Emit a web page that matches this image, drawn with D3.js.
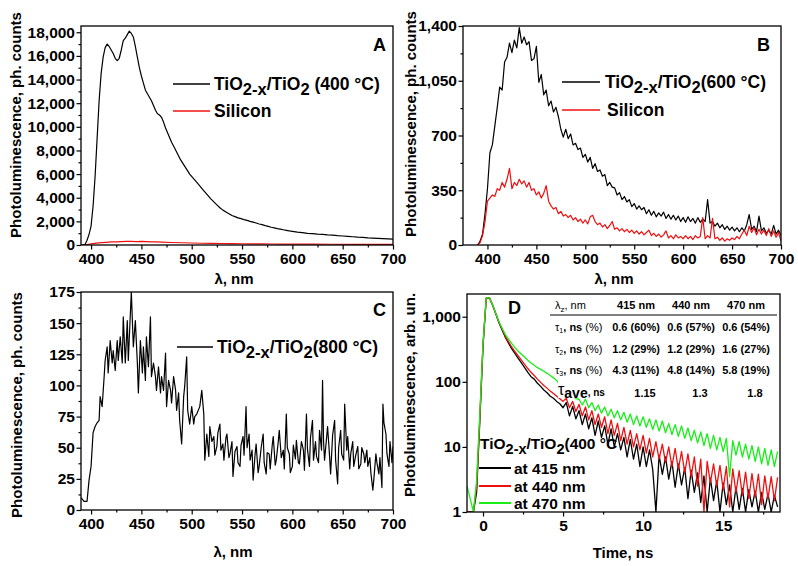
<!DOCTYPE html>
<html>
<head>
<meta charset="utf-8">
<script src="https://cdnjs.cloudflare.com/ajax/libs/d3/7.8.5/d3.min.js"></script>
<style>
  body { margin: 0; background: #fff; }
  svg { font-family: "Liberation Sans", Arial, sans-serif; font-weight: bold; }
</style>
</head>
<body>
<svg id="chart" width="798" height="566"></svg>
<script>
"use strict";

// ----------------------------------------
//  Data
// ----------------------------------------

// Panel A : TiO2-x/TiO2 (400 C) and silicon, [nm, counts]
let specA400 = [[390,0],[392,0],[394,50],[396,400],[398,900],[400,1600],[402,3300],[404,5800],[406,9000],[408,12200],
  [410,14500],[412,15900],[414,16700],[416,17000],[418,16800],[420,16500],[422,16200],[424,15800],[426,15600],[428,15800],
  [430,16500],[432,17300],[434,17500],[436,17800],[438,18100],[440,17900],[442,17600],[444,16800],[446,15900],[448,15000],
  [450,14300],[452,13700],[454,13100],[456,12800],[458,12500],[460,12200],[462,11800],[464,11400],[466,11100],[468,11000],
  [470,10800],[472,10400],[474,9900],[476,9500],[478,9100],[480,8700],[483,8200],[486,7700],[489,7200],[492,6800],
  [495,6400],[498,6000],[501,5700],[504,5400],[507,5100],[510,4800],[513,4500],[516,4200],[519,3900],[522,3650],
  [525,3400],[528,3150],[531,2950],[534,2800],[537,2650],[540,2500],[543,2400],[546,2300],[549,2230],[552,2150],
  [555,2080],[558,2000],[561,1930],[564,1860],[567,1780],[570,1720],[573,1640],[576,1580],[579,1500],[582,1450],
  [585,1390],[588,1340],[591,1290],[594,1240],[597,1190],[600,1150],[605,1090],[610,1040],[615,990],[620,960],
  [625,920],[630,900],[635,850],[640,830],[645,790],[650,760],[655,730],[660,700],[665,660],[670,640],
  [675,600],[680,580],[685,560],[690,540],[695,520],[700,500]];
let siliconA = [[390,0],[395,20],[400,90],[405,160],[410,200],[415,230],[420,260],[425,270],[430,290],[435,310],
  [440,300],[445,290],[450,310],[455,290],[460,270],[465,260],[470,240],[480,210],[490,190],[500,170],
  [510,150],[520,140],[530,125],[540,115],[550,105],[560,95],[570,90],[580,85],[590,80],[600,75],
  [620,70],[640,65],[660,60],[680,55],[700,50]];

// Panel B : sampled every 2.5 nm from 390 nm
let nmB = d3.range(125).map(i => 390 + 2.5 * i);
let specB600 = [0,25,70,200,360,590,640,760,880,1010,990,1170,1200,1290,1230,1310,1260,1390,1290,1330,
  1280,1300,1180,1190,1270,1040,1090,960,990,890,920,850,880,820,740,690,740,680,710,640,
  650,610,620,560,580,530,560,490,520,470,480,440,450,380,400,370,365,320,335,290,
  310,275,290,245,265,230,250,225,240,200,225,190,215,180,205,185,210,170,195,165,
  190,160,185,150,175,145,180,150,170,140,175,145,165,150,290,140,150,120,140,110,
  130,100,120,95,115,90,110,85,110,90,130,195,100,120,85,185,90,110,75,95,
  70,125,70,95,60];
let siliconB = [0,15,60,150,280,300,320,310,360,350,400,370,420,490,360,400,380,420,390,410,
  370,400,350,360,320,340,300,330,380,280,250,230,240,200,215,185,195,175,190,160,
  175,150,165,140,160,135,180,190,150,130,140,115,130,105,125,150,100,110,90,105,
  85,100,80,95,75,90,70,85,65,80,95,60,75,55,70,50,65,90,45,60,
  40,65,45,55,40,60,40,55,35,60,45,55,175,40,60,45,170,40,50,30,
  45,25,40,30,45,35,55,40,70,95,60,120,80,110,65,100,70,95,60,105,
  55,90,50,80,25];

// Panel C : TiO2-x/TiO2 (800 C), [nm, counts]
let specC800 = [[390,10],[393,7],[396,7],[398,24],[400,35],[402,62],[404,67],[406,70],[408,72],[409,91],
  [411,83],[413,107],[414,120],[416,131],[417,110],[419,136],[421,118],[422,128],[424,112],[426,136],
  [427,120],[429,139],[431,118],[432,155],[434,118],[436,152],[437,120],[440,175],[442,131],[444,152],
  [446,118],[447,94],[449,136],[451,110],[452,131],[454,104],[455,139],[457,115],[459,155],[460,107],
  [462,118],[464,107],[465,96],[467,115],[469,94],[470,107],[472,96],[474,126],[475,83],[477,104],
  [479,96],[480,86],[482,107],[484,96],[485,80],[487,94],[488,72],[490,53],[492,91],[493,99],
  [495,123],[496,80],[498,69],[500,83],[502,69],[503,75],[505,77],[508,83],[510,96],[512,77],
  [513,40],[515,61],[517,43],[518,67],[520,55],[522,59],[523,44],[525,51],[526,62],[528,69],
  [529,48],[531,53],[532,40],[534,58],[535,61],[537,42],[538,45],[540,55],[541,27],[543,47],
  [545,51],[546,38],[548,35],[549,52],[551,59],[552,44],[554,83],[555,50],[557,61],[558,40],
  [560,48],[561,24],[563,45],[564,53],[566,30],[567,35],[569,50],[571,61],[572,38],[574,29],
  [575,46],[577,45],[578,33],[580,52],[581,59],[583,36],[584,40],[586,55],[587,64],[589,42],
  [591,48],[592,33],[594,77],[595,50],[597,45],[598,30],[600,35],[601,52],[603,41],[604,56],
  [606,38],[607,37],[609,55],[611,48],[612,32],[614,77],[615,49],[617,35],[618,58],[620,72],
  [621,40],[623,55],[624,43],[626,38],[627,64],[629,48],[630,104],[631,55],[632,40],[634,58],
  [635,67],[637,43],[638,29],[640,60],[642,72],[643,40],[645,21],[646,50],[648,64],[649,45],
  [651,40],[652,85],[654,48],[655,59],[657,33],[658,45],[660,55],[661,35],[663,44],[665,51],
  [666,33],[668,37],[669,50],[671,45],[672,38],[674,48],[675,35],[677,42],[678,30],[680,16],
  [681,25],[683,45],[684,38],[686,29],[687,42],[689,18],[690,85],[691,70],[693,61],[694,45],
  [696,35],[697,55],[699,38],[700,51]];

// Panel D : decays, sampled every 0.2 ns from -1 ns
let timeD = d3.range(98).map(i => -1 + 0.2 * i);
let decay415 = [1,1,1,2,25,350,1900,1950,1500,1100,800,620,480,390,320,270,230,195,165,140,
  120,110,95,85,75,68,60,56,50,46,40,48,30,42,27,36,22,32,19,28,
  15,25,14,21,11,19,10,16,9,14,7,13,6.5,11,5,10,5,9,4.5,1,
  7.5,3.8,7,3.2,6,2.4,5.5,2.6,4.8,1.6,4.4,2,4,1.4,3.6,1,3.3,1.5,3,1,
  2.8,1.3,2.6,1,2.4,1.1,2.3,1,2.2,1.2,2.1,1,2,1.1,1.9,1,1.8,1.2];
let decay440 = [1,1,1,2.5,28,380,1950,1950,1520,1120,820,640,500,410,340,290,250,215,185,160,
  140,125,110,98,88,80,72,66,60,55,50,56,40,50,35,45,30,41,26,36,
  22,32,20,29,16,26,15,23,12.5,20,11,18,10,16,9,15,8,13.5,7,12,
  6.5,11,5.8,10,5,9.5,4.5,8.5,4,7.8,3.5,7,2.5,6.5,1,6,2.8,5.5,2.5,5.2,
  2.2,5,1.2,4.6,2,4.3,1.8,4.1,1.6,3.9,1.7,3.8,1.3,3.6,1.6,3.5,1.5,3.4];
let decay470 = [2.5,1.6,1,3,32,380,1950,1950,1520,1120,830,660,530,450,385,335,295,265,240,215,
  195,180,165,155,145,135,125,115,105,90,82,78,66,64,55,54,44,54,40,48,
  36,44,33,41,30,38,28,36,26,34,24,32,22,30,21,29,20,27,18.5,26,
  17.5,25,16.5,23,15.5,22,14.5,21,13.5,19.5,12.5,18,11.5,17,10.5,16,9.5,15,9,14,
  8.5,13.5,3.5,12.5,7.5,12,7,11,6.5,10.5,6,10,5.5,9.5,5.2,9,5,8.5];

// Lifetime table in panel D
let tableCols = ["415 nm", "440 nm", "470 nm"];
let tau1 = ["0.6 (60%)", "0.6 (57%)", "0.6 (54%)"];
let tau2 = ["1.2 (29%)", "1.2 (29%)", "1.6 (27%)"];
let tau3 = ["4.3 (11%)", "4.8 (14%)", "5.8 (19%)"];
let tauAve = ["1.15", "1.3", "1.8"];

const RED = "#ee1010";
const GREEN = "#18ee18";

let svg = d3.select("#chart");

// ----------------------------------------
//  One framed panel with its axes
// ----------------------------------------
function panel(p) {
  let x = d3.scaleLinear().domain(p.xDomain).range([p.left, p.right]);
  let y = (p.log ? d3.scaleLog() : d3.scaleLinear()).domain(p.yDomain).range([p.bottom, p.top]);
  let g = svg.append("g");

  g.append("clipPath").attr("id", "clip" + p.name)
    .append("rect")
    .attr("x", p.left).attr("y", p.top)
    .attr("width", p.right - p.left).attr("height", p.bottom - p.top);

  function style(a) {
    a.attr("font-family", null).attr("font-size", 15.5);
    a.select(".domain").remove();
    a.selectAll(".tick line").attr("stroke-width", 1.2);
  }

  // x axis, minor then major
  g.append("g").attr("transform", "translate(0," + p.bottom + ")")
    .call(d3.axisBottom(x).tickValues(p.xMinor).tickSize(2.5).tickFormat(""))
    .call(style);
  g.append("g").attr("transform", "translate(0," + p.bottom + ")")
    .call(d3.axisBottom(x).tickValues(p.xTicks).tickSize(4.5).tickPadding(3).tickFormat(d3.format("d")))
    .call(style);

  // y axis
  if (p.yMinor) {
    g.append("g").attr("transform", "translate(" + p.left + ",0)")
      .call(d3.axisLeft(y).tickValues(p.yMinor).tickSize(2.5).tickFormat(""))
      .call(style);
  }
  g.append("g").attr("transform", "translate(" + p.left + ",0)")
    .call(d3.axisLeft(y).tickValues(p.yTicks).tickSize(4.5).tickPadding(1.5).tickFormat(d3.format(",")))
    .call(style);

  // curves
  let line = d3.line()
    .x(d => x(d[0]))
    .y(d => y(Math.max(d[1], p.yDomain[0])));
  p.series.forEach(s => {
    g.append("path").datum(s.data)
      .attr("clip-path", "url(#clip" + p.name + ")")
      .attr("fill", "none")
      .attr("stroke", s.color)
      .attr("stroke-width", p.lineWidth || 1.2)
      .attr("stroke-linejoin", "round")
      .attr("d", line);
  });

  // frame
  g.append("rect")
    .attr("x", p.left).attr("y", p.top)
    .attr("width", p.right - p.left).attr("height", p.bottom - p.top)
    .attr("fill", "none").attr("stroke", "#000").attr("stroke-width", 1.3);

  // panel letter
  g.append("text").attr("x", p.letterX).attr("y", p.letterY)
    .attr("font-size", 18).text(p.name);

  // axis titles
  g.append("text").attr("x", p.xTitleX).attr("y", p.xTitleY)
    .attr("text-anchor", "middle").attr("font-size", 15).text(p.xTitle);
  g.append("text")
    .attr("transform", "translate(" + p.yTitleX + "," + p.yTitleY + ") rotate(-90)")
    .attr("text-anchor", "middle").attr("font-size", 15).text(p.yTitle);

  return g;
}

// legend entry with "TiO2-x/TiO2 ..." style subscripts
function formula(g, x, y, size, tail) {
  let t = g.append("text").attr("x", x).attr("y", y).attr("font-size", size);
  t.append("tspan").text("TiO");
  t.append("tspan").attr("dy", 5).attr("font-size", size - 1).text("2-x");
  t.append("tspan").attr("dy", -5).text("/TiO");
  t.append("tspan").attr("dy", 5).attr("font-size", size - 1).text("2");
  t.append("tspan").attr("dy", -5).text(tail);
}

function legendLine(g, x1, x2, y, color, w) {
  g.append("line").attr("x1", x1).attr("x2", x2).attr("y1", y).attr("y2", y)
    .attr("stroke", color).attr("stroke-width", w || 1.6);
}

let nmTicks = [400, 450, 500, 550, 600, 650, 700];
let nmMinor = [425, 475, 525, 575, 625, 675];

// ----------------------------------------
//  Panel A
// ----------------------------------------
let gA = panel({
  name: "A", left: 81, right: 393, top: 26, bottom: 245,
  xDomain: [390, 700], yDomain: [0, 18530],
  xTicks: nmTicks, xMinor: nmMinor,
  yTicks: d3.range(0, 18001, 2000), yMinor: d3.range(1000, 18000, 2000),
  series: [{data: siliconA, color: RED}, {data: specA400, color: "#000"}],
  letterX: 373, letterY: 51,
  xTitle: "λ, nm", xTitleX: 234, xTitleY: 284,
  yTitle: "Photoluminescence, ph. counts", yTitleX: 21, yTitleY: 125
});
legendLine(gA, 173, 210, 84, "#000");
formula(gA, 214, 90, 17.5, " (400 °C)");
legendLine(gA, 173, 210, 111, RED);
gA.append("text").attr("x", 214).attr("y", 117).attr("font-size", 17.5).text("Silicon");

// ----------------------------------------
//  Panel B
// ----------------------------------------
let gB = panel({
  name: "B", left: 463, right: 781, top: 26, bottom: 245,
  xDomain: [375, 700], yDomain: [0, 1400],
  xTicks: nmTicks, xMinor: nmMinor,
  yTicks: [0, 350, 700, 1050, 1400], yMinor: [175, 525, 875, 1225],
  series: [{data: nmB.map((d, i) => [d, specB600[i]]), color: "#000"},
           {data: nmB.map((d, i) => [d, siliconB[i]]), color: RED}],
  letterX: 757, letterY: 51,
  xTitle: "λ, nm", xTitleX: 614, xTitleY: 284,
  yTitle: "Photoluminescence, ph. counts", yTitleX: 416, yTitleY: 124
});
legendLine(gB, 562, 600, 82, "#000");
formula(gB, 605, 88, 17.5, "(600 °C)");
legendLine(gB, 562, 600, 110, RED);
gB.append("text").attr("x", 607).attr("y", 116).attr("font-size", 17.5).text("Silicon");

// ----------------------------------------
//  Panel C
// ----------------------------------------
let gC = panel({
  name: "C", left: 81, right: 393, top: 292, bottom: 510,
  xDomain: [390, 700], yDomain: [0, 175],
  xTicks: nmTicks, xMinor: nmMinor,
  yTicks: d3.range(0, 176, 25), yMinor: d3.range(12.5, 175, 25),
  series: [{data: specC800, color: "#000"}],
  letterX: 373, letterY: 316,
  xTitle: "λ, nm", xTitleX: 233, xTitleY: 557,
  yTitle: "Photoluminescence, ph. counts", yTitleX: 22, yTitleY: 405
});
legendLine(gC, 177, 213, 347, "#000");
formula(gC, 217, 353, 17.5, "(800 °C)");

// ----------------------------------------
//  Panel D
// ----------------------------------------
let gD = panel({
  name: "D", left: 467, right: 780, top: 294, bottom: 512, log: true, lineWidth: 1.3,
  xDomain: [-1, 18.55], yDomain: [1, 2234],
  xTicks: [0, 5, 10, 15], xMinor: [2.5, 7.5, 12.5, 17.5],
  yTicks: [1, 10, 100, 1000], yMinor: null,
  series: [{data: timeD.map((t, i) => [t, decay415[i]]), color: "#000"},
           {data: timeD.map((t, i) => [t, decay440[i]]), color: RED},
           {data: timeD.map((t, i) => [t, decay470[i]]), color: GREEN}],
  letterX: 508, letterY: 314,
  xTitle: "Time, ns", xTitleX: 623, xTitleY: 558,
  yTitle: "Photoluminescence, arb. un.", yTitleX: 415, yTitleY: 395
});

// table with white background
gD.append("rect").attr("x", 558).attr("y", 295).attr("width", 221).attr("height", 103).attr("fill", "#fff");
gD.append("line").attr("x1", 550).attr("x2", 777).attr("y1", 315).attr("y2", 315)
  .attr("stroke", "#000").attr("stroke-width", 1);

let colX = [636, 691, 746];
let hdr = gD.append("text").attr("x", 555).attr("y", 309).attr("font-size", 11).attr("font-weight", "normal");
hdr.append("tspan").text("λ");
hdr.append("tspan").attr("dy", 3).attr("font-size", 8).text("z");
hdr.append("tspan").attr("dy", -3).text(", nm");
gD.selectAll(".colhead").data(tableCols).enter().append("text")
  .attr("x", (d, i) => colX[i]).attr("y", 309).attr("text-anchor", "middle")
  .attr("font-size", 11).text(d => d);

let rows = [tau1, tau2, tau3];
let rowY = [331, 353, 374];
rows.forEach((r, k) => {
  let lab = gD.append("text").attr("x", 555).attr("y", rowY[k]).attr("font-size", 11);
  lab.append("tspan").attr("font-weight", "normal").text("τ");
  lab.append("tspan").attr("dy", 2).attr("font-size", 7).attr("font-weight", "normal").text(String(k + 1));
  lab.append("tspan").attr("dy", -2).text(", ns ");
  lab.append("tspan").attr("font-weight", "normal").text("(%)");
  gD.selectAll(".row" + k).data(r).enter().append("text")
    .attr("x", (d, i) => colX[i]).attr("y", rowY[k]).attr("text-anchor", "middle")
    .attr("font-size", 11).text(d => d);
});

let ave = gD.append("text").attr("x", 558).attr("y", 395).attr("font-size", 16).attr("font-weight", "normal");
ave.append("tspan").text("τ");
ave.append("tspan").attr("dy", 3).attr("font-size", 14).attr("font-weight", "bold").text("ave");
ave.append("tspan").attr("dy", -2).attr("font-size", 10).attr("font-weight", "bold").text(", ns");
gD.selectAll(".ave").data(tauAve).enter().append("text")
  .attr("x", (d, i) => colX[i] + 9).attr("y", 397).attr("text-anchor", "middle")
  .attr("font-size", 11).text(d => d);

// decay legend
formula(gD, 480, 449, 15.5, "(400 °C");
legendLine(gD, 479, 511, 468, "#000", 2);
legendLine(gD, 479, 511, 486, RED, 2);
legendLine(gD, 479, 511, 503, GREEN, 2);
["at 415 nm", "at 440 nm", "at 470 nm"].forEach((s, i) => {
  gD.append("text").attr("x", 514).attr("y", [468, 486, 503][i] + 5.5).attr("font-size", 15.5).text(s);
});
</script>
</body>
</html>
